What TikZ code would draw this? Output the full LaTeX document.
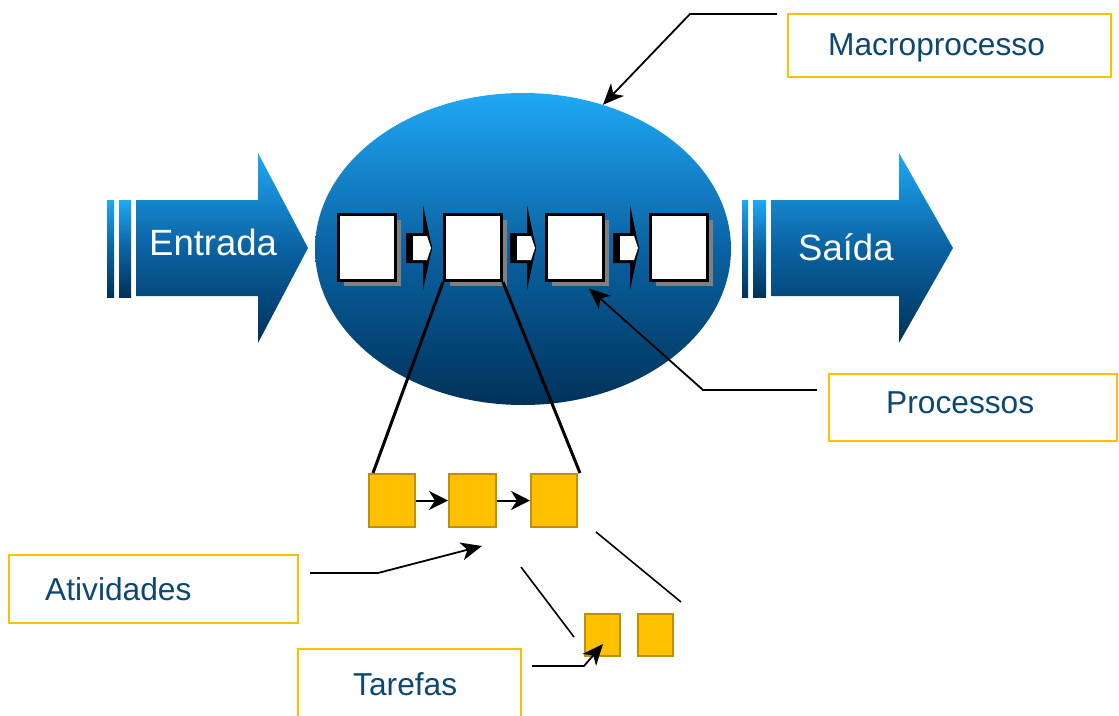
\documentclass[tikz,border=0pt]{standalone}
\usepackage{fontspec}
\setmainfont{Liberation Sans}
\usetikzlibrary{shapes.geometric,arrows.meta,shadows}
\definecolor{bluetop}{RGB}{32,168,245}
\definecolor{bluemid}{RGB}{10,98,162}
\definecolor{bluebot}{RGB}{0,50,90}
\definecolor{amber}{RGB}{255,192,0}
\definecolor{amberdark}{RGB}{191,144,0}
\definecolor{labeltext}{RGB}{12,72,115}
\begin{document}
\begin{tikzpicture}[x=1pt,y=-1pt,
  bluegrad/.style={top color=bluetop,bottom color=bluebot,middle color=bluemid},
  procbox/.style={draw=black,line width=3pt,fill=white,minimum width=57pt,minimum height=66pt,inner sep=0pt,
    drop shadow={shadow xshift=5.5pt,shadow yshift=-5.5pt,fill=gray,opacity=1}},
  actbox/.style={draw=amberdark,line width=2pt,fill=amber,inner sep=0pt},
  labelbox/.style={draw=amber,line width=2pt,fill=white,inner sep=0pt},
  labeltxt/.style={text=labeltext,font=\fontsize{31.7}{36}\selectfont,inner sep=0pt,anchor=base west},
  arrowtxt/.style={text=white,font=\fontsize{36.5}{40}\selectfont,inner sep=0pt,anchor=base west},
  callout/.style={draw=black,line width=1.8pt,-{Stealth[length=21pt,width=18pt,inset=6pt]}},
  flowarrow/.style={draw=black,line width=2pt,-{Stealth[length=19pt,width=19pt,inset=6pt]}},
  thinline/.style={draw=black,line width=1.6pt},
  linkline/.style={draw=black,line width=3pt}]
\clip (0,0) rectangle (1119,715);
\fill[white] (0,0) rectangle (1119,715);

% input arrow
\shade[bluegrad] (107,200) rectangle (114,297);
\shade[bluegrad] (119,200) rectangle (131,297);
\shade[bluegrad] (136,200) -- (258,200) -- (258,153) -- (308,248) -- (258,343) -- (258,296) -- (136,296) -- cycle;
\node[arrowtxt] (te) at (149,255) {Entrada};

% output arrow
\shade[bluegrad] (742,200) rectangle (748,297);
\shade[bluegrad] (753,200) rectangle (766,297);
\shade[bluegrad] (771,200) -- (899,200) -- (899,153) -- (953,248) -- (899,343) -- (899,296) -- (771,296) -- cycle;
\node[arrowtxt] (ts) at (798,260) {Saída};

% macroprocess ellipse
\node[ellipse,bluegrad,minimum width=416pt,minimum height=312pt,inner sep=0pt] (macro) at (523,249) {};

% process connectors
\foreach \s in {406,510,613}{
  \fill[black] (\s+17,205) -- (\s+26,248) -- (\s+17,290) -- cycle;
  \fill[black] (\s,233) -- (\s+22,233) -- (\s+26,248) -- (\s+22,263) -- (\s,263) -- cycle;
  \fill[white] (\s+7,236) -- (\s+21,236) -- (\s+25,248) -- (\s+21,260) -- (\s+7,260) -- cycle;
}

% processes
\node[procbox] (p1) at (367,247.5) {};
\node[procbox] (p2) at (473,247.5) {};
\node[procbox] (p3) at (574.5,247.5) {};
\node[procbox] (p4) at (678.5,247.5) {};

% activities
\node[actbox,minimum width=46pt,minimum height=53pt] (a1) at (392,500.5) {};
\node[actbox,minimum width=47pt,minimum height=53pt] (a2) at (472.5,500.5) {};
\node[actbox,minimum width=46pt,minimum height=53pt] (a3) at (554,500.5) {};
\draw[flowarrow] (a1) -- (a2);
\draw[flowarrow] (a2) -- (a3);

\draw[linkline] (p2.south west) -- ([xshift=5pt]a1.north west);
\draw[linkline] (p2.south east) -- ([xshift=2pt]a3.north east);

% tasks
\node[actbox,minimum width=35pt,minimum height=42pt] (t1) at (602.5,635) {};
\node[actbox,minimum width=35pt,minimum height=42pt] (t2) at (655.5,635) {};

\coordinate (l1a) at (521,567);
\coordinate (l1b) at (574,637);
\coordinate (l2a) at (596,532);
\coordinate (l2b) at (681,602);
\draw[thinline] (l1a) -- (l1b);
\draw[thinline] (l2a) -- (l2b);

% label boxes
\node[labelbox,minimum width=323pt,minimum height=63pt] (lm) at (949.5,45.5) {};
\node[labeltxt] (tm) at (828,55) {Macroprocesso};
\node[labelbox,minimum width=288pt,minimum height=67pt] (lp) at (973,407.5) {};
\node[labeltxt] (tp) at (886,413) {Processos};
\node[labelbox,minimum width=289pt,minimum height=68pt] (la) at (153.5,589) {};
\node[labeltxt] (ta) at (45,600) {Atividades};
\node[labelbox,minimum width=223pt,minimum height=91pt] (lt) at (409.5,694.5) {};
\node[labeltxt] (tt) at (353,695) {Tarefas};

% callouts
\draw[callout] ([shift={(-10,1)}]lm.north west) -- ++(-87,0) -- (macro.61);
\draw[callout] ([shift={(-11,-17.5)}]lp.west) -- ++(-114,0) -- ([shift={(14.5,6.5)}]p3.south);
\draw[callout] ([shift={(11,-16)}]la.east) -- ++(68,0) -- ([shift={(9.5,18)}]a2.south);
\draw[callout] ([shift={(10,18)}]lt.north east) -- ++(52,0) -- ([shift={(0.5,9)}]t1.center);
\end{tikzpicture}
\end{document}
